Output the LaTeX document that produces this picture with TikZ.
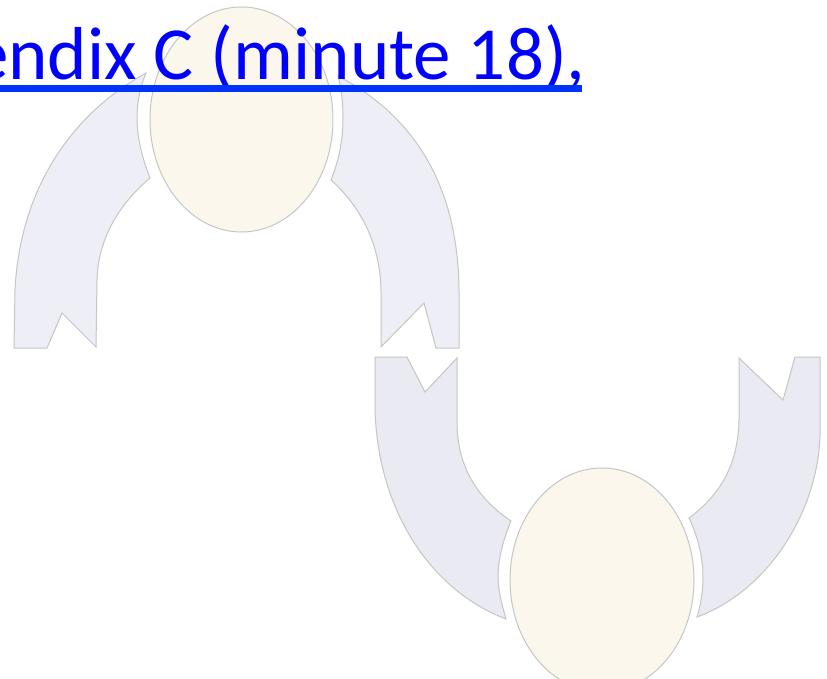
\documentclass[tikz,border=0pt]{standalone}
\usepackage{fontspec}
\setmainfont{Carlito}
\usetikzlibrary{shapes.geometric}
\definecolor{arcA}{HTML}{EDEEF6}
\definecolor{arcB}{HTML}{E9EAF2}
\definecolor{eggfill}{HTML}{FBF7EC}
\definecolor{edgegray}{HTML}{C6C6C6}
\definecolor{linkblue}{HTML}{0000FF}
\definecolor{ulblue}{HTML}{0033FF}
\tikzset{
  arcshape/.style={draw=edgegray,line width=1pt,line join=miter},
  egg/.style={ellipse,draw=edgegray,fill=eggfill,line width=1pt,inner sep=0pt},
  linktext/.style={text=linkblue,font=\fontsize{75}{75}\selectfont,inner sep=0pt,anchor=base west}
}
\begin{document}
\begin{tikzpicture}[x=1pt,y=-1pt]
\useasboundingbox (0,0) rectangle (827,679);
\clip (0,0) rectangle (827,679);
\fill[white] (0,0) rectangle (827,679);
% upper left band
\draw[arcshape,fill=arcA] (14,348) -- (47,348) -- (62,313) -- (96,347) -- (97,280)
  .. controls (98,240) and (118,205) .. (150,178)
  .. controls (141,155) and (137,135) .. (137,118)
  .. controls (137,100) and (141,85) .. (146,73)
  .. controls (70,115) and (20,190) .. (15,290) -- cycle;
% upper right band
\draw[arcshape,fill=arcA] (459,348) -- (436,348) -- (424,303) -- (381,347) -- (381,290)
  .. controls (380,245) and (362,208) .. (331,180)
  .. controls (339,160) and (343,140) .. (343,118)
  .. controls (343,100) and (341,88) .. (338,76)
  .. controls (418,118) and (458,190) .. (459,290) -- cycle;
% lower left band
\draw[arcshape,fill=arcB] (375,357) -- (407,357) -- (425,392) -- (457,358) -- (457,425)
  .. controls (458,470) and (480,500) .. (511,521)
  .. controls (503,540) and (498,560) .. (498,577)
  .. controls (498,590) and (502,605) .. (506,619)
  .. controls (430,590) and (378,510) .. (375,410) -- cycle;
% lower right band
\draw[arcshape,fill=arcB] (820,357) -- (795,357) -- (783,400) -- (739,358) -- (739,420)
  .. controls (738,465) and (720,495) .. (689,518)
  .. controls (698,537) and (703,557) .. (703,577)
  .. controls (703,590) and (701,604) .. (697,617)
  .. controls (770,590) and (818,510) .. (820,435) -- cycle;
% ovals
\node[egg,minimum width=183pt,minimum height=225pt] (upperoval) at (241.5,119.5) {};
\node[egg,minimum width=184pt,minimum height=224pt] (loweroval) at (602,580) {};
% link text
\node[linktext] (linklabel) at (-29,80) {endix C (minute 18),};
\fill[ulblue] (0,85.5) rectangle (582,92);
\end{tikzpicture}
\end{document}
